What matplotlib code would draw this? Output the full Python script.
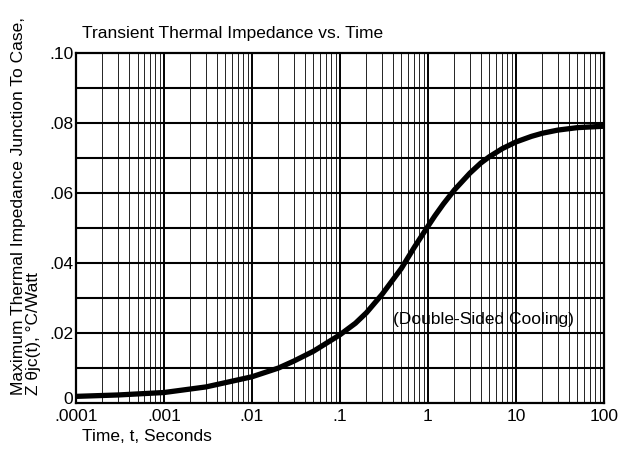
import matplotlib
matplotlib.use("Agg")
import matplotlib.pyplot as plt
import matplotlib.transforms as mtransforms
from matplotlib.ticker import FixedLocator, NullFormatter

plt.rcParams['font.family'] = ['Liberation Sans Narrow', 'Liberation Sans', 'DejaVu Sans']

# Data
time_s = [1e-4, 3e-4, 1e-3, 3e-3, 1e-2, 2e-2, 3e-2, 5e-2, 0.1, 0.15, 0.2, 0.3, 0.5,
          0.7, 1.0, 1.2, 1.5, 2.0, 3.0, 4.0, 5.0, 7.0, 10.0, 15.0, 20.0, 30.0,
          50.0, 100.0]
z_theta = [0.0019, 0.0023, 0.0030, 0.0046, 0.0075, 0.0100, 0.0120, 0.0148, 0.0195,
           0.0228, 0.0258, 0.0310, 0.0385, 0.0445, 0.0505, 0.0535, 0.0569, 0.0609,
           0.0657, 0.0686, 0.0704, 0.0727, 0.0746, 0.0762, 0.0771, 0.0780, 0.0787,
           0.0791]

x_ticks = [1e-4, 1e-3, 1e-2, 1e-1, 1, 10, 100]
x_labels = ['.0001', '.001', '.01', '.1', '1', '10', '100']
y_ticks = [0, 0.02, 0.04, 0.06, 0.08, 0.10]
y_labels = ['0', '.02', '.04', '.06', '.08', '.10']

fig = plt.figure(figsize=(6.2, 4.5), dpi=100)
ax = fig.add_axes([0.1226, 0.1044, 0.8514, 0.7776])

ax.set_xscale('log')
ax.set_xlim(1e-4, 100)
ax.set_ylim(0, 0.10)

# grid
minor = [m * 10.0**e for e in range(-4, 2) for m in range(2, 10)]
for xv in minor:
    ax.axvline(xv, color='black', lw=0.6, zorder=1)
for xv in x_ticks:
    ax.axvline(xv, color='black', lw=1.4, zorder=1)
for k in range(1, 10):
    ax.axhline(k * 0.01, color='black', lw=1.5, zorder=1)

ax.plot(time_s, z_theta, color='black', lw=3.8, solid_capstyle='butt',
        solid_joinstyle='round', zorder=3)

ax.xaxis.set_major_locator(FixedLocator(x_ticks))
ax.set_xticklabels(x_labels)
ax.xaxis.set_minor_formatter(NullFormatter())
ax.set_yticks(y_ticks)
ax.set_yticklabels(y_labels)
ax.tick_params(axis='x', which='both', length=0, labelsize=12.5, pad=4)
ax.tick_params(axis='y', which='both', length=0, labelsize=12.5, pad=2)

# lift the "0" label slightly, as in the reference
zero_lbl = ax.get_yticklabels()[0]
zero_lbl.set_transform(zero_lbl.get_transform() +
                       mtransforms.ScaledTranslation(0, 5 / 100, fig.dpi_scale_trans))

for s in ax.spines.values():
    s.set_linewidth(1.6)
    s.set_color('black')

fig.text(0.132, 0.925, 'Transient Thermal Impedance vs. Time', fontsize=12.5,
         ha='left', va='center')
fig.text(0.132, 0.030, 'Time, t, Seconds', fontsize=12.5, ha='left', va='center')
fig.text(0.030, 0.122, 'Maximum Thermal Impedance Junction To Case,', fontsize=12.5,
         rotation=90, ha='center', va='bottom')
fig.text(0.054, 0.122, 'Z \u03b8jc(t), \u00b0C/Watt', fontsize=12.5,
         rotation=90, ha='center', va='bottom')

ax.text(4.3, 0.024, '(Double-Sided Cooling)', fontsize=12.5, ha='center', va='center',
        zorder=4)

fig.savefig('out.png', dpi=100)
